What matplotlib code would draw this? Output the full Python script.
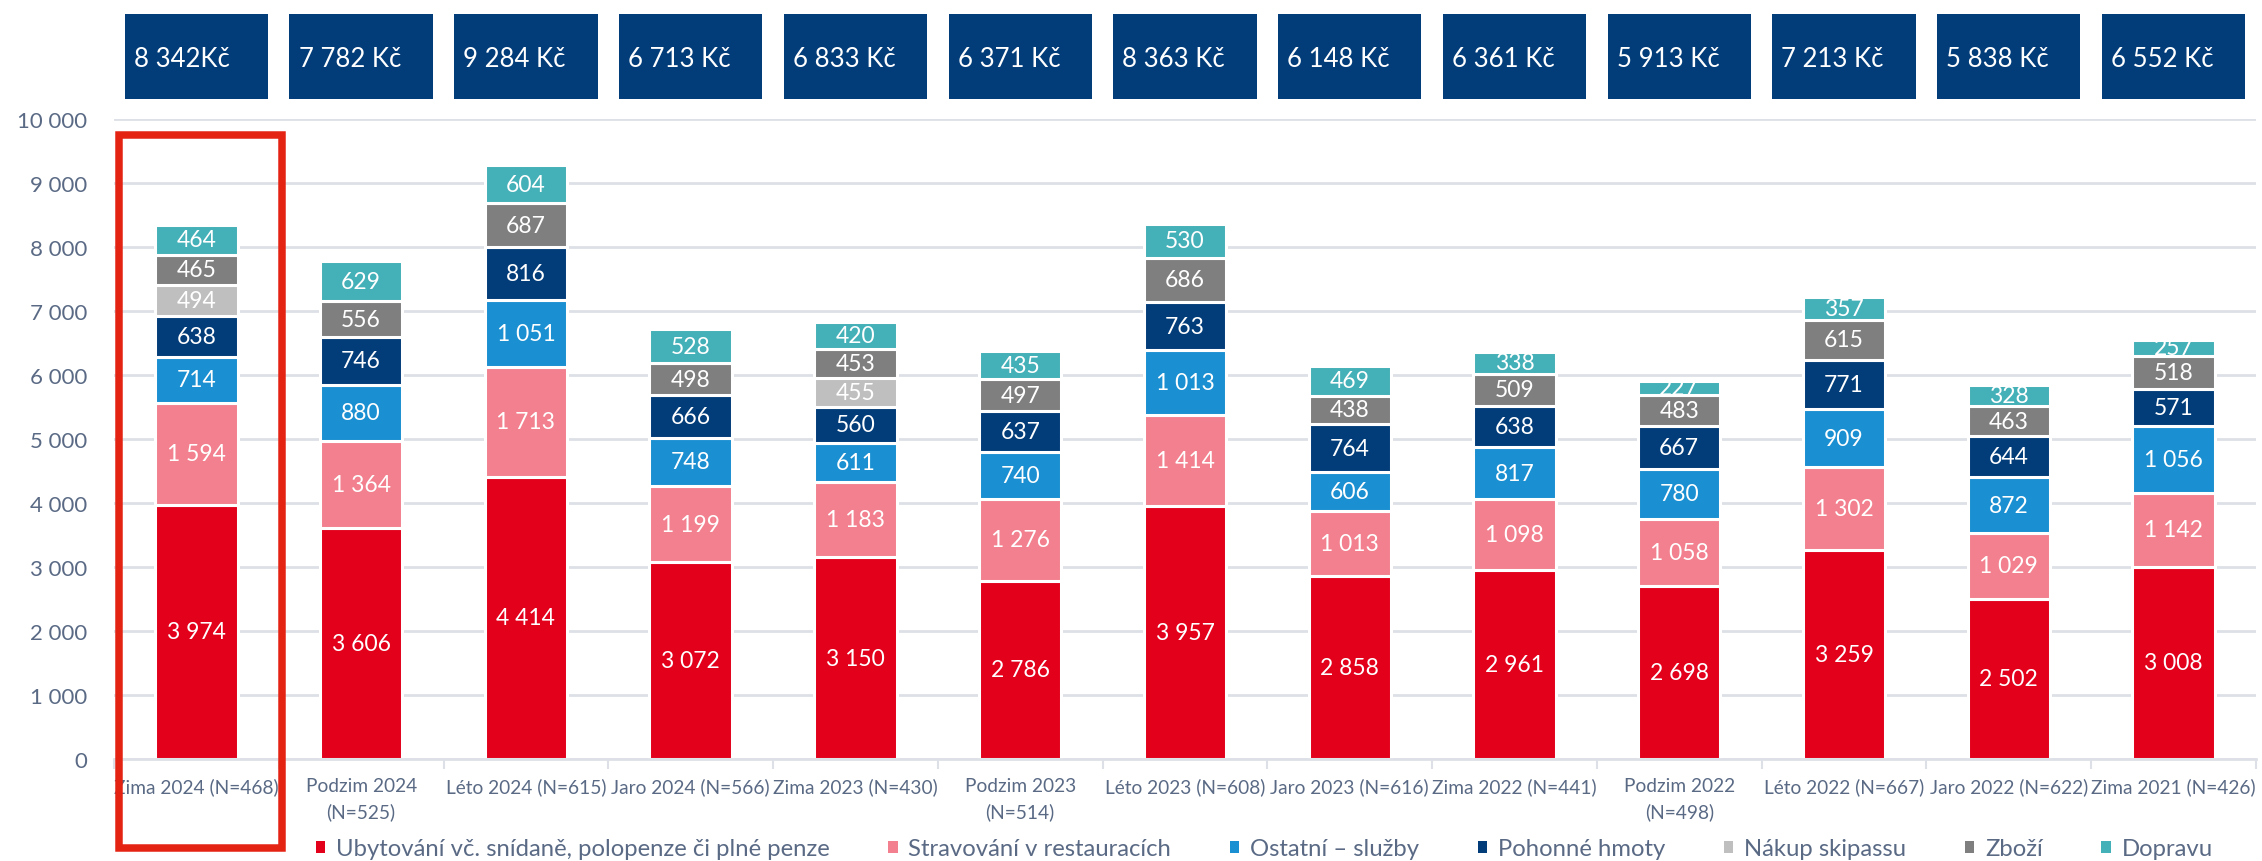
import numpy as np
import matplotlib.pyplot as plt
from matplotlib.patches import Rectangle
from matplotlib.ticker import FuncFormatter, FixedLocator
import matplotlib.transforms as mtransforms

plt.rcParams['font.family'] = ['Lato', 'DejaVu Sans']

# kategorie (sezona + velikost vzorku)
categories = ["Zima 2024 (N=468)", "Podzim 2024\n(N=525)", "Léto 2024 (N=615)",
              "Jaro 2024 (N=566)", "Zima 2023 (N=430)", "Podzim 2023\n(N=514)",
              "Léto 2023 (N=608)", "Jaro 2023 (N=616)", "Zima 2022 (N=441)",
              "Podzim 2022\n(N=498)", "Léto 2022 (N=667)", "Jaro 2022 (N=622)",
              "Zima 2021 (N=426)"]

# prumerna utrata celkem (popisky nahore)
top_labels = ["8 342Kč", "7 782 Kč", "9 284 Kč", "6 713 Kč", "6 833 Kč", "6 371 Kč",
              "8 363 Kč", "6 148 Kč", "6 361 Kč", "5 913 Kč", "7 213 Kč", "5 838 Kč",
              "6 552 Kč"]

# jednotlive slozky (odspodu nahoru)
ubytovani = [3974, 3606, 4414, 3072, 3150, 2786, 3957, 2858, 2961, 2698, 3259, 2502, 3008]
stravovani = [1594, 1364, 1713, 1199, 1183, 1276, 1414, 1013, 1098, 1058, 1302, 1029, 1142]
sluzby = [714, 880, 1051, 748, 611, 740, 1013, 606, 817, 780, 909, 872, 1056]
pohonne = [638, 746, 816, 666, 560, 637, 763, 764, 638, 667, 771, 644, 571]
skipass = [494, 0, 0, 0, 455, 0, 0, 0, 0, 0, 0, 0, 0]
zbozi = [465, 556, 687, 498, 453, 497, 686, 438, 509, 483, 615, 463, 518]
doprava = [464, 629, 604, 528, 420, 435, 530, 469, 338, 227, 357, 328, 257]

series = [ubytovani, stravovani, sluzby, pohonne, skipass, zbozi, doprava]
names = ["Ubytování vč. snídaně, polopenze či plné penze", "Stravování v restauracích",
         "Ostatní – služby", "Pohonné hmoty", "Nákup skipassu", "Zboží", "Dopravu"]
colors = ["#E3001B", "#F2808E", "#1A8FD1", "#023C79", "#BFBFBF", "#7F7F7F", "#44B0B8"]

text_col = "#5A6A85"
grid_col = "#DDE1E7"

fig = plt.figure(figsize=(22.62, 8.62), dpi=100)
ax = fig.add_axes([0.0504, 0.1183, 0.9469, 0.7425])

x = np.arange(len(categories))
bottom = np.zeros(len(categories))
handles = []
for vals, name, col in zip(series, names, colors):
    vals = np.array(vals, dtype=float)
    bars = ax.bar(x, vals, width=0.5, bottom=bottom, color=col,
                  edgecolor="white", linewidth=2.2, label=name)
    handles.append(bars)
    for rect, v, b in zip(bars, vals, bottom):
        if v <= 0:
            rect.set_visible(False)
            continue
        t = ax.text(rect.get_x() + rect.get_width() / 2, b + v / 2,
                    f"{int(v):,}".replace(",", " "), ha="center", va="center",
                    color="white", fontsize=16.5)
        t.set_clip_path(rect)
    bottom += vals

ax.set_xlim(-0.5, len(categories) - 0.5)
ax.set_ylim(0, 10000)
ax.set_yticks(np.arange(0, 10001, 1000))
ax.yaxis.set_major_formatter(FuncFormatter(lambda v, p: f"{int(v):,}".replace(",", " ")))
ax.tick_params(axis="y", length=0, pad=19, labelsize=16, labelcolor=text_col)
ax.yaxis.grid(True, color=grid_col, linewidth=2)
ax.set_axisbelow(True)

ax.set_xticks(x)
ax.set_xticklabels(categories, fontsize=13.8, color=text_col, linespacing=1.58)
ax.tick_params(axis="x", which="major", length=0, pad=13)
ax.xaxis.set_minor_locator(FixedLocator(np.arange(-0.5, len(categories), 1)))
ax.tick_params(axis="x", which="minor", length=7, width=1.5, color=grid_col)

for s in ["top", "right", "left"]:
    ax.spines[s].set_visible(False)
ax.spines["bottom"].set_color(grid_col)
ax.spines["bottom"].set_linewidth(2)

# boxy s prumernou utratou nad sloupci
trans = mtransforms.blended_transform_factory(ax.transData, ax.transAxes)
for i, lab in enumerate(top_labels):
    ax.add_patch(Rectangle((i - 0.435, 1.031), 0.87, 0.133, transform=trans,
                           facecolor="#023C79", edgecolor="none", clip_on=False))
    ax.text(i - 0.38, 1.094, lab, transform=trans, ha="left", va="center",
            color="white", fontsize=18.5, clip_on=False)

# cerveny ramecek kolem prvni kategorie
ax.add_patch(Rectangle((-0.47, -0.139), 0.989, 1.114, transform=trans, fill=False,
                       edgecolor="#E42313", linewidth=5.4, clip_on=False, zorder=5))

leg = fig.legend(handles=handles, labels=names, loc="center left",
                 bbox_to_anchor=(0.1395, 0.014), ncol=7, frameon=False,
                 fontsize=17.2, labelcolor=text_col, handlelength=0.4,
                 handleheight=0.4, handletextpad=0.45, columnspacing=2.45,
                 borderpad=0, borderaxespad=0)
for h in leg.legend_handles:
    h.set_edgecolor("none")

fig.savefig("out.png", dpi=100)
